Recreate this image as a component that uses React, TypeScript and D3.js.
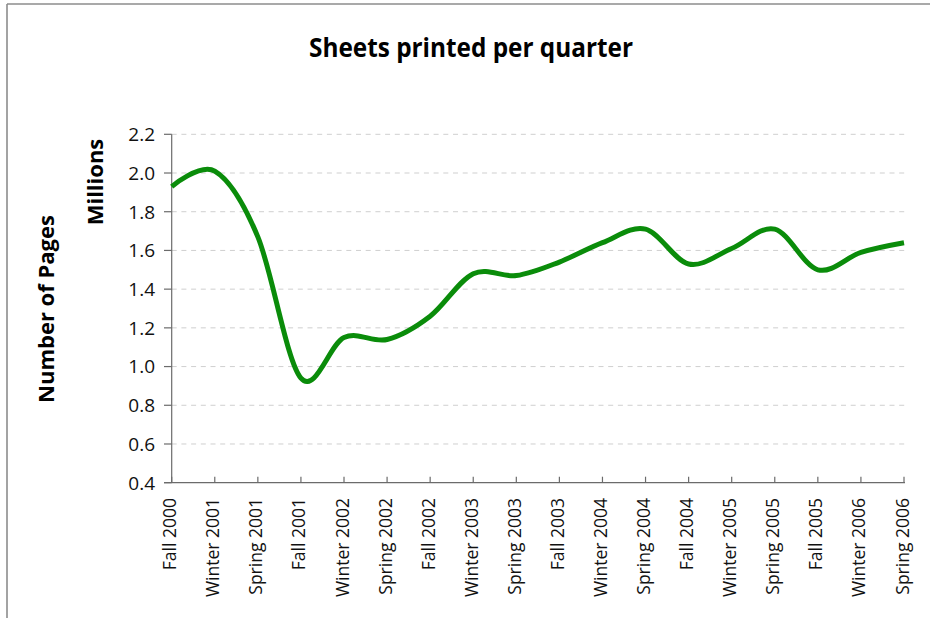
import React from "react";
import * as d3 from "d3";

const categories = [
  "Fall 2000", "Winter 2001", "Spring 2001", "Fall 2001", "Winter 2002", "Spring 2002",
  "Fall 2002", "Winter 2003", "Spring 2003", "Fall 2003", "Winter 2004", "Spring 2004",
  "Fall 2004", "Winter 2005", "Spring 2005", "Fall 2005", "Winter 2006", "Spring 2006",
];
const pages = [
  1.93, 2.01, 1.67, 0.94, 1.15, 1.14,
  1.26, 1.48, 1.47, 1.54, 1.64, 1.71,
  1.53, 1.61, 1.71, 1.5, 1.59, 1.64,
];
const yTicks = [0.4, 0.6, 0.8, 1.0, 1.2, 1.4, 1.6, 1.8, 2.0, 2.2];
const title = "Sheets printed per quarter";
const yLabel = "Number of Pages";
const yUnit = "Millions";

const W = 930;
const H = 618;
const left = 171.7;
const right = 904;
const top = 134.3;
const bottom = 482.7;
const FONT = "'Open Sans', 'Noto Sans', sans-serif";

export default function App() {
  const x = d3.scalePoint<string>().domain(categories).range([left, right]);
  const y = d3.scaleLinear().domain([0.4, 2.2]).range([bottom, top]);
  const line = d3
    .line<number>()
    .x((_, i) => x(categories[i]) as number)
    .y((d) => y(d))
    .curve(d3.curveCatmullRom.alpha(0));
  const path = line(pages) || "";

  return (
    <svg
      width={W}
      height={H}
      style={{ position: "absolute", left: 0, top: 0, background: "#fff" }}
      fontFamily={FONT}
    >
      <rect x={0} y={0} width={W} height={H} fill="#fff" />
      {/* frame */}
      <line x1={7} y1={4} x2={W} y2={4} stroke="#8c8c8c" strokeWidth={1.6} />
      <line x1={7} y1={4} x2={7} y2={H} stroke="#8c8c8c" strokeWidth={1.6} />

      {/* title */}
      <text
        x={471}
        y={57}
        textAnchor="middle"
        fontSize={27}
        fontWeight={700}
        textLength={324}
        lengthAdjust="spacingAndGlyphs"
        fill="#000"
      >
        {title}
      </text>

      {/* gridlines */}
      {yTicks.map((t) =>
        t === 0.4 ? null : (
          <line
            key={"g" + t}
            x1={left}
            x2={905}
            y1={y(t)}
            y2={y(t)}
            stroke="#cfcfcf"
            strokeWidth={1}
            strokeDasharray="5,4.7"
          />
        )
      )}

      {/* y axis */}
      <line x1={left} x2={left} y1={top} y2={bottom} stroke="#6b6b6b" strokeWidth={1.2} />
      {yTicks.map((t) => (
        <g key={"yt" + t}>
          <line x1={164} x2={left} y1={y(t)} y2={y(t)} stroke="#6b6b6b" strokeWidth={1.2} />
          <text
            x={155}
            y={y(t)}
            dy="0.36em"
            textAnchor="end"
            fontSize={19}
            fill="#111"
          >
            {t.toFixed(1)}
          </text>
        </g>
      ))}

      {/* x axis */}
      <line x1={164} x2={905} y1={bottom} y2={bottom} stroke="#6b6b6b" strokeWidth={1.2} />
      {categories.map((c) => {
        const cx = x(c) as number;
        return (
          <g key={"xt" + c}>
            <line x1={cx} x2={cx} y1={bottom - 6} y2={bottom} stroke="#6b6b6b" strokeWidth={1.2} />
            <text
              transform={`translate(${cx},498) rotate(-90)`}
              x={0}
              y={4.5}
              textAnchor="end"
              fontSize={17.5}
              fill="#111"
            >
              {c}
            </text>
          </g>
        );
      })}

      {/* axis titles */}
      <text
        transform="translate(54.3,309) rotate(-90)"
        textAnchor="middle"
        fontSize={22}
        fontWeight={700}
        fill="#000"
      >
        {yLabel}
      </text>
      <text
        transform="translate(102.7,182) rotate(-90)"
        textAnchor="middle"
        fontSize={22}
        fontWeight={700}
        fill="#000"
      >
        {yUnit}
      </text>

      {/* data line */}
      <path
        d={path}
        fill="none"
        stroke="#0a8c0a"
        strokeWidth={5}
        strokeLinejoin="round"
        strokeLinecap="butt"
      />
    </svg>
  );
}
